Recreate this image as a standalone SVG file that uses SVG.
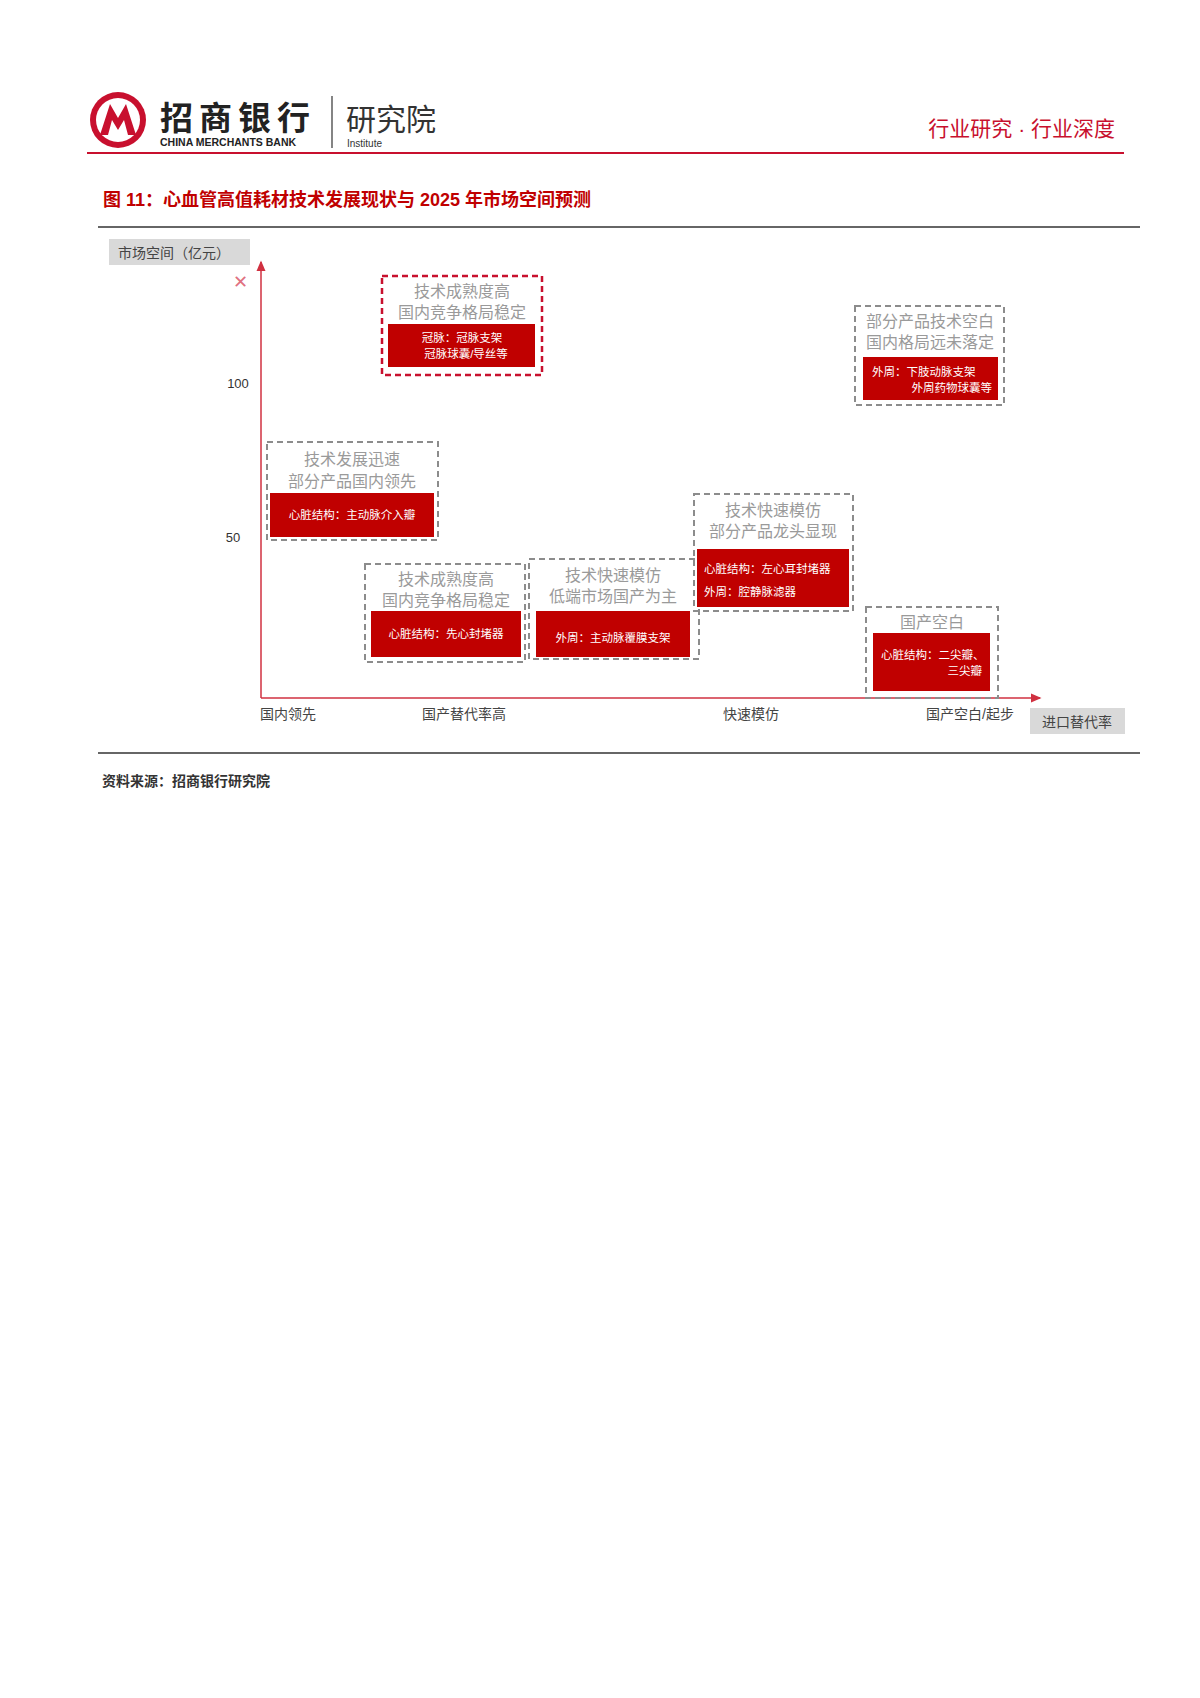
<svg xmlns="http://www.w3.org/2000/svg" width="1200" height="1698" viewBox="0 0 1200 1698">
<style>
text{font-family:"Liberation Sans","Noto Sans CJK SC",sans-serif}
.g{fill:none;stroke:#8c8c8c;stroke-width:2;stroke-dasharray:6,4}
.r{fill:none;stroke:#c8102e;stroke-width:2.5;stroke-dasharray:6,4}
.f{fill:#c00000}
.t{fill:#9a9a9a;font-size:16px;text-anchor:middle}
.w{fill:#fff;font-size:11.5px}
.ax{fill:#444;font-size:14px}
</style>
<defs><marker id="ah" markerWidth="8" markerHeight="8" refX="6" refY="4" orient="auto"><path d="M0,1 L7,4 L0,7 z" fill="#d03040"/></marker></defs>
<rect width="1200" height="1698" fill="#fff"/>
<g id="header">
<circle cx="118" cy="120" r="28" fill="#c8102e"/>
<circle cx="118" cy="120" r="22" fill="#fff"/>
<path d="M100,135 L110,104 L118,118 L126,104 L136,135 L128,135 L124,120 L118,130 L112,120 L108,135 z" fill="#c8102e"/>
<text x="160" y="130" font-size="33" font-weight="bold" fill="#222" font-family="Noto Sans CJK SC,serif" letter-spacing="6">招商银行</text>
<text x="160" y="146" font-size="10.5" font-weight="bold" fill="#222" font-family="Liberation Serif,serif">CHINA MERCHANTS BANK</text>
<line x1="332" y1="96" x2="332" y2="148" stroke="#333" stroke-width="1.2"/>
<text x="346" y="130" font-size="30" fill="#333" font-family="Noto Sans CJK SC,serif">研究院</text>
<text x="347" y="147" font-size="10" fill="#333" font-family="Liberation Serif,serif">Institute</text>
<text x="1115" y="136" font-size="21" fill="#c8102e" text-anchor="end">行业研究 · 行业深度</text>
<line x1="87" y1="153" x2="1124" y2="153" stroke="#c8102e" stroke-width="2"/>
<text x="103" y="206" font-size="18" font-weight="bold" fill="#c00000" font-family="Liberation Serif,Noto Sans CJK SC,serif">图 11：心血管高值耗材技术发展现状与 2025 年市场空间预测</text>
<line x1="98" y1="227" x2="1140" y2="227" stroke="#333" stroke-width="1.5"/>
</g>
<g id="connectors">
<line x1="261" y1="698" x2="261" y2="262" stroke="#d03040" stroke-width="1.5" marker-end="url(#ah)"/>
<line x1="261" y1="698" x2="1040" y2="698" stroke="#d03040" stroke-width="1.5" marker-end="url(#ah)"/>
</g>
<g id="axes">
<rect x="109" y="239" width="141" height="26" fill="#d9d9d9"/>
<text x="118" y="258" class="ax" font-size="15">市场空间（亿元）</text>
<text x="240" y="288" font-size="18" fill="#e07080" text-anchor="middle">✕</text>
<text x="238" y="388" font-size="13" fill="#333" text-anchor="middle" font-family="Liberation Serif,serif">100</text>
<text x="233" y="542" font-size="13" fill="#333" text-anchor="middle" font-family="Liberation Serif,serif">50</text>
<text x="260" y="719" class="ax">国内领先</text>
<text x="422" y="719" class="ax">国产替代率高</text>
<text x="723" y="719" class="ax">快速模仿</text>
<text x="926" y="719" class="ax">国产空白/起步</text>
<rect x="1030" y="708" width="95" height="26" fill="#d9d9d9"/>
<text x="1077" y="727" class="ax" text-anchor="middle">进口替代率</text>
</g>
<g id="n1">
<rect x="382" y="276" width="160" height="99" class="r"/>
<rect x="388" y="324" width="147" height="43" class="f"/>
<text x="462" y="297" class="t">技术成熟度高</text>
<text x="462" y="318" class="t">国内竞争格局稳定</text>
<text x="462" y="342" class="w" text-anchor="middle">冠脉：冠脉支架</text>
<text x="466" y="358" class="w" text-anchor="middle">冠脉球囊/导丝等</text>
</g>
<g id="n2">
<rect x="267" y="442" width="171" height="98" class="g"/>
<rect x="270" y="493" width="164" height="44" class="f"/>
<text x="352" y="465" class="t">技术发展迅速</text>
<text x="352" y="487" class="t">部分产品国内领先</text>
<text x="352" y="519" class="w" text-anchor="middle">心脏结构：主动脉介入瓣</text>
</g>
<g id="n3">
<rect x="365" y="564" width="160" height="98" class="g"/>
<rect x="371" y="611" width="150" height="46" class="f"/>
<text x="446" y="585" class="t">技术成熟度高</text>
<text x="446" y="606" class="t">国内竞争格局稳定</text>
<text x="446" y="638" class="w" text-anchor="middle">心脏结构：先心封堵器</text>
</g>
<g id="n4">
<rect x="529" y="559" width="170" height="100" class="g"/>
<rect x="536" y="611" width="154" height="46" class="f"/>
<text x="613" y="581" class="t">技术快速模仿</text>
<text x="613" y="602" class="t">低端市场国产为主</text>
<text x="613" y="642" class="w" text-anchor="middle">外周：主动脉覆膜支架</text>
</g>
<g id="n5">
<rect x="694" y="494" width="159" height="117" class="g"/>
<rect x="697" y="549" width="152" height="58" class="f"/>
<text x="773" y="516" class="t">技术快速模仿</text>
<text x="773" y="537" class="t">部分产品龙头显现</text>
<text x="704" y="573" class="w">心脏结构：左心耳封堵器</text>
<text x="704" y="596" class="w">外周：腔静脉滤器</text>
</g>
<g id="n6">
<rect x="855" y="306" width="149" height="99" class="g"/>
<rect x="863" y="357" width="135" height="43" class="f"/>
<text x="930" y="327" class="t">部分产品技术空白</text>
<text x="930" y="348" class="t">国内格局远未落定</text>
<text x="872" y="376" class="w">外周：下肢动脉支架</text>
<text x="992" y="392" class="w" text-anchor="end">外周药物球囊等</text>
</g>
<g id="n7">
<rect x="866" y="607" width="132" height="91" class="g"/>
<rect x="873" y="633" width="117" height="58" class="f"/>
<text x="932" y="628" class="t">国产空白</text>
<text x="881" y="659" class="w">心脏结构：二尖瓣、</text>
<text x="982" y="675" class="w" text-anchor="end">三尖瓣</text>
</g>
<g id="footer">
<line x1="98" y1="753" x2="1140" y2="753" stroke="#333" stroke-width="1.5"/>
<text x="102" y="786" font-size="14" font-weight="bold" fill="#333" font-family="Liberation Serif,Noto Sans CJK SC,serif">资料来源：招商银行研究院</text>
</g>
</svg>
